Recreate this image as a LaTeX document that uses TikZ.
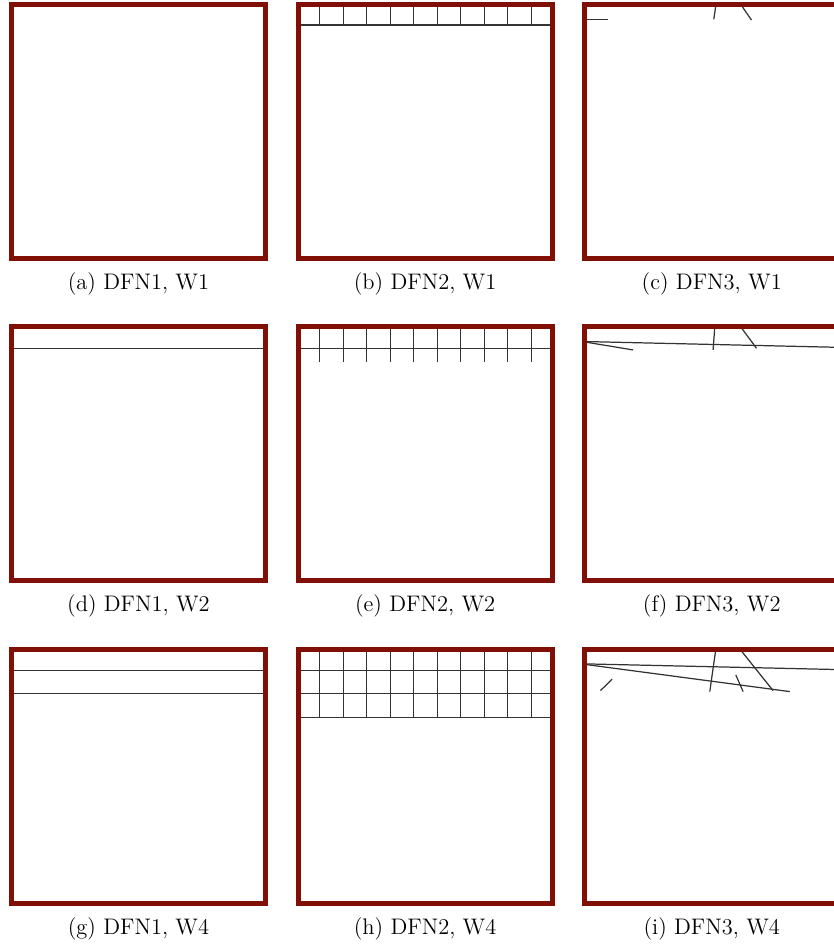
\documentclass[tikz,border=0pt]{standalone}
\usepackage{xcolor}
\usepackage{tikz}
\usetikzlibrary{positioning, backgrounds}

\definecolor{framered}{RGB}{128,16,6}

\begin{document}
\begin{tikzpicture}[
    x=0.02cm, y=-0.02cm,
    panel/.style={rectangle, draw=framered, line width=0.1cm, minimum width=5.08cm, minimum height=5.08cm, inner sep=0pt, outer sep=0pt},
    caption/.style={font=\fontsize{12.8}{15}\selectfont, inner sep=0pt},
    frac/.style={draw=black!80, line width=0.7pt}
]
\useasboundingbox (0,0) rectangle (834,944);

% panels
\node[panel, anchor=north west] (a) at (11.5,4.5) {};
\node[panel, right=0.654cm of a] (b) {};
\node[panel, right=0.654cm of b] (c) {};
\node[panel, below=1.37cm of a] (d) {};
\node[panel, right=0.654cm of d] (e) {};
\node[panel, right=0.654cm of e] (f) {};
\node[panel, below=1.37cm of d] (g) {};
\node[panel, right=0.654cm of g] (h) {};
\node[panel, right=0.654cm of h] (i) {};

\node[caption, below=0.27cm of a] (capa) {(a) DFN1, W1};
\node[caption, below=0.27cm of b] (capb) {(b) DFN2, W1};
\node[caption, below=0.27cm of c] (capc) {(c) DFN3, W1};
\node[caption, below=0.27cm of d] (capd) {(d) DFN1, W2};
\node[caption, below=0.27cm of e] (cape) {(e) DFN2, W2};
\node[caption, below=0.27cm of f] (capf) {(f) DFN3, W2};
\node[caption, below=0.27cm of g] (capg) {(g) DFN1, W4};
\node[caption, below=0.27cm of h] (caph) {(h) DFN2, W4};
\node[caption, below=0.27cm of i] (capi) {(i) DFN3, W4};

\begin{pgfonlayer}{background}
% DFN1
\begin{scope}[shift={(d.north west)}]
  \draw[frac] (0,21.3) -- (254,21.3);
\end{scope}
\begin{scope}[shift={(g.north west)}]
  \foreach \fy in {21.3,44.5}
    \draw[frac] (0,\fy) -- (254,\fy);
\end{scope}

% DFN2
\begin{scope}[shift={(b.north west)}]
  \draw[frac] (0,20.5) -- (254,20.5);
  \foreach \gx in {0,...,9}
    \draw[frac] ({21.7+23.48*\gx},0) -- ++(0,20.5);
\end{scope}
\begin{scope}[shift={(e.north west)}]
  \draw[frac] (0,21.3) -- (254,21.3);
  \foreach \gx in {0,...,9}
    \draw[frac] ({21.7+23.48*\gx},0) -- ++(0,34.7);
\end{scope}
\begin{scope}[shift={(h.north west)}]
  \foreach \fy in {21.5,44.5,67.8}
    \draw[frac] (0,\fy) -- (254,\fy);
  \foreach \gx in {0,...,9}
    \draw[frac] ({21.7+23.48*\gx},0) -- ++(0,67.8);
\end{scope}

% DFN3
\begin{scope}[shift={(c.north west)}]
  \draw[frac] (0,14.8) -- (23.3,14.8);
  \draw[frac] (131.2,0) -- (129,14.8);
  \draw[frac] (156,0) -- (166.7,15.5);
\end{scope}
\begin{scope}[shift={(f.north west)}]
  \draw[frac] (0,14.6) -- (254,20.4);
  \draw[frac] (0,15) -- (48.3,23);
  \draw[frac] (130,0) -- (128.3,23);
  \draw[frac] (156,0) -- (171.7,21.3);
\end{scope}
\begin{scope}[shift={(i.north west)}]
  \draw[frac] (0,14.5) -- (254,20.2);
  \draw[frac] (0,15) -- (205,42.2);
  \draw[frac] (131,0) -- (125,42.2);
  \draw[frac] (155.3,0) -- (188.3,41.2);
  \draw[frac] (151,25.5) -- (158.3,42.2);
  \draw[frac] (15.7,41.2) -- (27.3,29.8);
\end{scope}
\end{pgfonlayer}

\end{tikzpicture}
\end{document}
